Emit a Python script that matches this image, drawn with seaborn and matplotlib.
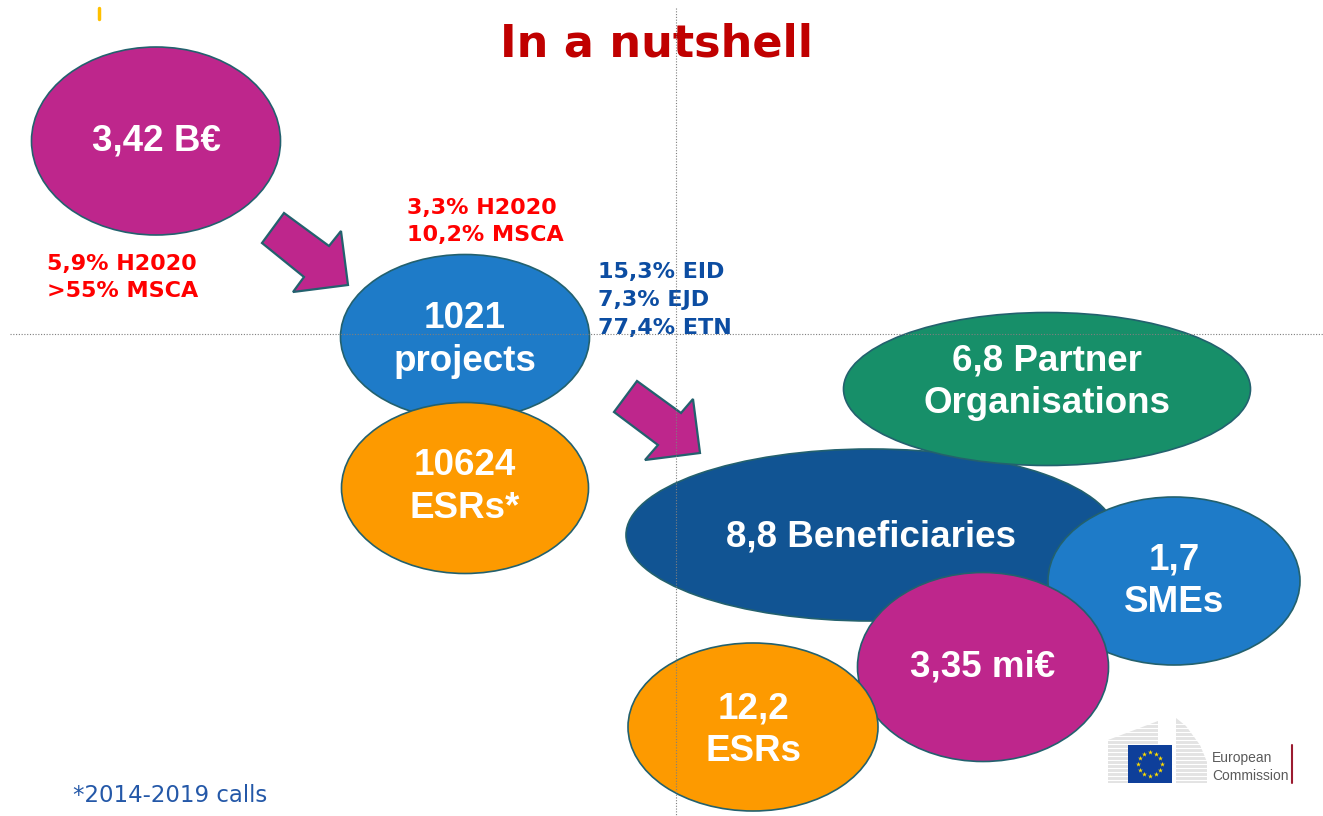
import numpy as np
import matplotlib
matplotlib.use("Agg")
import matplotlib.pyplot as plt
from matplotlib.patches import Ellipse, Polygon, Rectangle
import seaborn as sns

# %% data
bubble_labels = ["3,42 B€", "1021\nprojects", "10624\nESRs*", "8,8 Beneficiaries",
                 "6,8 Partner\nOrganisations", "1,7\nSMEs", "3,35 mi€", "12,2\nESRs"]
bubble_colors = ["#BE268C", "#1E7BC8", "#FD9A00", "#115493",
                 "#178F69", "#1E7BC8", "#BE268C", "#FD9A00"]

red_notes = ["3,3% H2020\n10,2% MSCA", "5,9% H2020\n>55% MSCA"]
blue_note = "15,3% EID\n7,3% EJD\n77,4% ETN"
title = "In a nutshell"
footnote = "*2014-2019 calls"
logo_text = "European\nCommission"

# %% layout (pixel coordinates of the slide)
bx = [156, 465, 465, 871, 1047, 1174, 983, 753]
by = [141, 337, 488, 535, 389, 581, 667, 727]
bw = [249, 249, 247, 490, 407, 252, 251, 250]
bh = [188, 165, 171, 172, 153, 168, 189, 168]
label_dy = [0, 3, -1, 2, -7, 0, 0, 3]

arrow1 = [(284, 213), (262, 243), (304, 277), (293, 292), (348, 285), (341, 231), (329, 246)]
arrow2 = [(637, 381), (614, 412), (658, 445), (645, 460), (700, 453), (693, 399), (681, 413)]

sns.set_theme(style="white")
fig = plt.figure(figsize=(13.23, 8.16), dpi=100)
ax = fig.add_axes([0, 0, 1, 1])
ax.set_xlim(0, 1323)
ax.set_ylim(816, 0)
ax.axis("off")

edge = "#23616E"
for i, lab in enumerate(bubble_labels):
    ax.add_patch(Ellipse((bx[i], by[i]), bw[i], bh[i], facecolor=bubble_colors[i],
                         edgecolor=edge, lw=1.2, zorder=2 + i))
    ax.text(bx[i], by[i] + label_dy[i], lab, ha="center", va="center", color="white",
            fontsize=26.5, fontweight="bold", family="Liberation Sans",
            linespacing=1.28, zorder=2 + i)

for arr in [arrow1, arrow2]:
    ax.add_patch(Polygon(arr, closed=True, facecolor="#BE268C", edgecolor=edge,
                         lw=1.6, zorder=3))

# guide lines
ax.plot([676, 676], [8, 816], ls=(0, (1, 1.5)), color="#7F7F7F", lw=0.8, zorder=20)
ax.plot([10, 1323], [334, 334], ls=(0, (1, 1.5)), color="#7F7F7F", lw=0.8, zorder=20)
ax.plot([99, 99], [8, 19], color="#FFC000", lw=2.5)

ax.text(656, 44, title, ha="center", va="center", color="#C00000",
        fontsize=32, fontweight="bold", family="DejaVu Sans")

ax.text(407, 198, red_notes[0], ha="left", va="top", color="#FF0000",
        fontsize=16, fontweight="bold", family="DejaVu Sans", linespacing=1.45)
ax.text(47, 254, red_notes[1], ha="left", va="top", color="#FF0000",
        fontsize=16, fontweight="bold", family="DejaVu Sans", linespacing=1.45)
ax.text(598, 262, blue_note, ha="left", va="top", color="#0C4DA2",
        fontsize=16, fontweight="bold", family="DejaVu Sans", linespacing=1.5)

ax.text(73, 796, footnote, ha="left", va="center", color="#2458A8",
        fontsize=16.5, family="DejaVu Sans")

# European Commission logo
ax.add_patch(Polygon([(1108, 740), (1158, 721), (1158, 783), (1108, 783)],
                     closed=True, facecolor="#E3E3E3", edgecolor="none", zorder=5))
ax.add_patch(Polygon([(1176, 718), (1186, 726), (1200, 745), (1207, 762), (1207, 783), (1176, 783)],
                     closed=True, facecolor="#E3E3E3", edgecolor="none", zorder=5))
for yy in np.arange(724, 783, 4):
    ax.plot([1106, 1210], [yy, yy], color="white", lw=0.8, zorder=6)
ax.add_patch(Rectangle((1128, 745), 44, 38, facecolor="#0E3F9A", edgecolor="none", zorder=7))
ang = np.linspace(0, 2 * np.pi, 13)[:-1]
ax.scatter(1150 + 12 * np.cos(ang), 764 + 12 * np.sin(ang), marker="*", s=14,
           color="#FFDD00", zorder=8, linewidths=0)
ax.text(1212, 767, logo_text, ha="left", va="center", color="#5A5A5A",
        fontsize=10, family="Liberation Sans", linespacing=1.3, zorder=8)
ax.plot([1292, 1292], [745, 783], color="#9B1B30", lw=1.5, zorder=8)

fig.savefig("out.png", dpi=100)
